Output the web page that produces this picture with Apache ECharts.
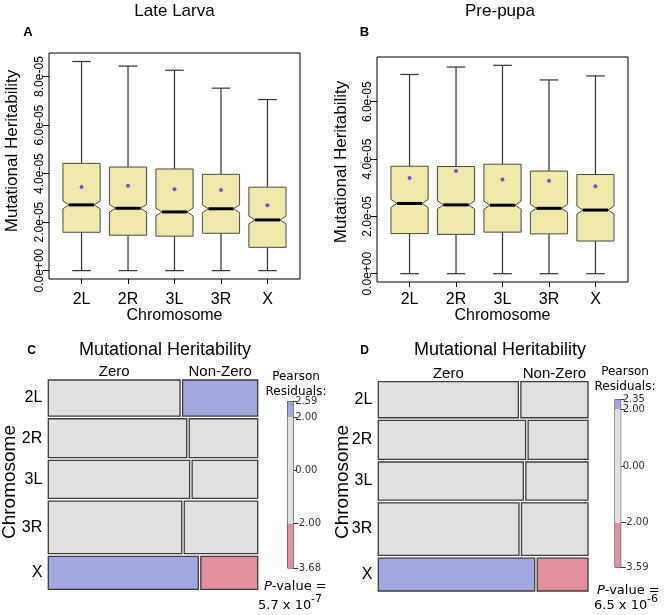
<!DOCTYPE html>
<html><head><meta charset="utf-8">
<script src="https://cdn.jsdelivr.net/npm/echarts@6/dist/echarts.min.js"></script>
<style>html,body{margin:0;padding:0;background:#fff}#c{width:668px;height:615px}</style>
</head><body><div id="c"></div>
<script>
// ---------- data ----------
const chromosomes = ['2L', '2R', '3L', '3R', 'X'];

// Panel A : Late Larva (mutational heritability)
const larvaWhiskerLow  = [0, 0, 0, 0, 0];
const larvaQ1          = [1.58e-5, 1.46e-5, 1.42e-5, 1.54e-5, 0.96e-5];
const larvaNotchLow    = [2.55e-5, 2.41e-5, 2.26e-5, 2.39e-5, 1.93e-5];
const larvaMedian      = [2.71e-5, 2.57e-5, 2.42e-5, 2.55e-5, 2.09e-5];
const larvaNotchHigh   = [2.87e-5, 2.73e-5, 2.58e-5, 2.71e-5, 2.25e-5];
const larvaQ3          = [4.42e-5, 4.27e-5, 4.19e-5, 3.97e-5, 3.44e-5];
const larvaWhiskerHigh = [8.62e-5, 8.43e-5, 8.26e-5, 7.52e-5, 7.05e-5];
const larvaMean        = [3.45e-5, 3.50e-5, 3.35e-5, 3.32e-5, 2.69e-5];

// Panel B : Pre-pupa
const pupaWhiskerLow  = [0, 0, 0, 0, 0];
const pupaQ1          = [1.40e-5, 1.37e-5, 1.45e-5, 1.39e-5, 1.14e-5];
const pupaNotchLow    = [2.31e-5, 2.26e-5, 2.25e-5, 2.14e-5, 2.08e-5];
const pupaMedian      = [2.45e-5, 2.40e-5, 2.39e-5, 2.28e-5, 2.22e-5];
const pupaNotchHigh   = [2.59e-5, 2.54e-5, 2.53e-5, 2.42e-5, 2.36e-5];
const pupaQ3          = [3.75e-5, 3.74e-5, 3.82e-5, 3.58e-5, 3.46e-5];
const pupaWhiskerHigh = [6.95e-5, 7.21e-5, 7.27e-5, 6.76e-5, 6.90e-5];
const pupaMean        = [3.34e-5, 3.58e-5, 3.29e-5, 3.24e-5, 3.05e-5];

const larvaTickValues = [0, 2e-5, 4e-5, 6e-5, 8e-5];
const larvaTickLabels = ['0.0e+00', '2.0e-05', '4.0e-05', '6.0e-05', '8.0e-05'];
const pupaTickValues  = [0, 2e-5, 4e-5, 6e-5];
const pupaTickLabels  = ['0.0e+00', '2.0e-05', '4.0e-05', '6.0e-05'];

// Panels C/D : mosaic (Zero vs Non-Zero heritability by chromosome)
const mosaicColumns   = ['Zero', 'Non-Zero'];
const chromosomeShare = [36.0, 38.8, 38.0, 52.5, 32.9];
const larvaZeroShare  = [0.637, 0.669, 0.683, 0.645, 0.725];
const pupaZeroShare   = [0.676, 0.711, 0.700, 0.679, 0.755];
const larvaResidZero    = [-1.70, -0.55, -0.10, -0.85, 2.40];
const larvaResidNonZero = [2.59, 0.80, 0.20, 1.25, -3.68];
const pupaResidZero     = [-0.40, 0.30, 0.10, -0.50, 2.35];
const pupaResidNonZero  = [0.55, -0.45, -0.15, 0.70, -3.59];
const residualCuts = [-2, 0, 2];
const larvaPValue = ['5.7 x 10', '-7'];
const pupaPValue  = ['6.5 x 10', '-6'];

// ---------- styles ----------
const SANS = 'Liberation Sans, Arial, sans-serif';
const VERD = 'DejaVu Sans, Verdana, sans-serif';
const BOX_FILL = '#eee8aa';
const POS = '#a3a6e0', NEG = '#e3909e', NEU = '#e0e0e0';
const resColor = r => r > 2 ? POS : (r < -2 ? NEG : NEU);

// ---------- box plot helpers ----------
function boxData(lo, q1, nl, md, nh, q3, hi) {
  return chromosomes.map((c, i) => [i + 1, lo[i], q1[i], nl[i], md[i], nh[i], q3[i], hi[i]]);
}
function boxRender(params, api) {
  const x = api.value(0);
  const wlo = api.value(1), q1 = api.value(2), nlo = api.value(3), med = api.value(4),
        nhi = api.value(5), q3 = api.value(6), whi = api.value(7);
  const W = 0.4, NW = 0.27, CW = 0.2;
  const P = (dx, y) => api.coord([x + dx, y]);
  const line = (a, b, w, c) => ({ type: 'line', shape: { x1: a[0], y1: a[1], x2: b[0], y2: b[1] },
    style: { stroke: c || '#333', lineWidth: w || 1.2 } });
  return {
    type: 'group',
    children: [
      line(P(0, q3), P(0, whi)),
      line(P(0, q1), P(0, wlo)),
      line(P(-CW, whi), P(CW, whi)),
      line(P(-CW, wlo), P(CW, wlo)),
      { type: 'polygon', shape: { points: [P(-W, q1), P(-W, nlo), P(-NW, med), P(-W, nhi), P(-W, q3),
          P(W, q3), P(W, nhi), P(NW, med), P(W, nlo), P(W, q1)] },
        style: { fill: BOX_FILL, stroke: '#4a4a40', lineWidth: 1 } },
      line(P(-NW, med), P(NW, med), 3, '#000')
    ]
  };
}
function meanData(m) { return chromosomes.map((c, i) => [i + 1, m[i]]); }

// ---------- mosaic helpers ----------
const GAP_Y = 0.013, GAP_X = 0.012;
function rowBounds(i) {
  const tot = chromosomeShare.reduce((a, b) => a + b, 0);
  const avail = 1 - GAP_Y * (chromosomeShare.length - 1);
  let top = 0;
  for (let k = 0; k < i; k++) top += chromosomeShare[k] / tot * avail + GAP_Y;
  return [top, top + chromosomeShare[i] / tot * avail];
}
function colBounds(z, j) {
  const avail = 1 - GAP_X;
  return j === 0 ? [0, z * avail] : [z * avail + GAP_X, 1];
}
function mosaicData(rz, rn) {
  const d = [];
  chromosomes.forEach((c, i) => { d.push([i, 0, rz[i]]); d.push([i, 1, rn[i]]); });
  return d;
}
function mosaicRender(zeroShare) {
  return function (params, api) {
    const i = api.value(0), j = api.value(1), r = api.value(2);
    const [t, b] = rowBounds(i);
    const [l, rr] = colBounds(zeroShare[i], j);
    const p0 = api.coord([l, t]), p1 = api.coord([rr, b]);
    return { type: 'rect', shape: { x: p0[0], y: p0[1], width: p1[0] - p0[0], height: p1[1] - p0[1] },
      style: { fill: resColor(r), stroke: '#3c3c3c', lineWidth: 1.3 } };
  };
}
function colLabelRender(zeroShare) {
  return function (params, api) {
    const j = api.value(0);
    const [l, r] = colBounds(zeroShare[0], j);
    const p = api.coord([(l + r) / 2, 0]);
    return { type: 'text', x: p[0], y: p[1] - 8,
      style: { text: mosaicColumns[j], fill: '#000', font: '15px ' + SANS,
        align: 'center', verticalAlign: 'middle', textAlign: 'center', textVerticalAlign: 'middle' } };
  };
}
function rowLabelRender(params, api) {
  const i = api.value(0);
  const [t, b] = rowBounds(i);
  const p = api.coord([0, (t + b) / 2]);
  return { type: 'text', x: p[0] - 6, y: p[1],
    style: { text: chromosomes[i], fill: '#000', font: '16px ' + SANS,
      align: 'right', verticalAlign: 'middle', textAlign: 'right', textVerticalAlign: 'middle' } };
}
function legendData(rz, rn) {
  const all = rz.concat(rn);
  const mn = Math.min(...all), mx = Math.max(...all);
  return { min: mn, max: mx,
    segs: [[mn, residualCuts[0], mn - 1], [residualCuts[0], residualCuts[2], 0], [residualCuts[2], mx, mx + 1]],
    ticks: [mn, residualCuts[0], residualCuts[1], residualCuts[2], mx] };
}
function legendRender(params, api) {
  const lo = api.value(0), hi = api.value(1), c = api.value(2);
  const p0 = api.coord([0, hi]), p1 = api.coord([1, lo]);
  return { type: 'rect', shape: { x: p0[0], y: p0[1], width: p1[0] - p0[0], height: p1[1] - p0[1] },
    style: { fill: resColor(c), stroke: null } };
}
const legC = legendData(larvaResidZero, larvaResidNonZero);
const legD = legendData(pupaResidZero, pupaResidNonZero);

// ---------- axes ----------
function boxXAxis(g, margin) {
  return { gridIndex: g, type: 'value', min: 0.3, max: 5.7,
    axisLine: { show: false, onZero: false }, splitLine: { show: false },
    axisTick: { show: true, customValues: [1, 2, 3, 4, 5], length: 5, lineStyle: { color: '#000' } },
    axisLabel: { customValues: [1, 2, 3, 4, 5], formatter: v => chromosomes[Math.round(v) - 1],
      fontSize: 16, fontFamily: SANS, color: '#000', margin: margin } };
}
function boxYAxis(g, mn, mx, tv, tl) {
  return { gridIndex: g, type: 'value', min: mn, max: mx,
    axisLine: { show: false, onZero: false }, splitLine: { show: false },
    axisTick: { show: true, customValues: tv, length: 6, lineStyle: { color: '#000' } },
    axisLabel: { customValues: tv, rotate: 90, fontSize: 12, fontFamily: SANS, color: '#000', margin: 3,
      formatter: v => { let k = 0; tv.forEach((t, i) => { if (Math.abs(t - v) < Math.abs(tv[k] - v)) k = i; }); return tl[k]; } } };
}
function hiddenAxis(g, inverse) {
  return { gridIndex: g, type: 'value', min: 0, max: 1, inverse: !!inverse, show: false,
    axisLine: { show: false, onZero: false }, splitLine: { show: false } };
}
function legendYAxis(g, L) {
  return { gridIndex: g, type: 'value', min: L.min, max: L.max, position: 'right',
    axisLine: { show: false, onZero: false }, splitLine: { show: false },
    axisTick: { show: true, customValues: L.ticks, length: 4, lineStyle: { color: '#333' } },
    axisLabel: { customValues: L.ticks, formatter: v => v.toFixed(2), fontSize: 10, fontFamily: VERD,
      color: '#333', margin: 2, hideOverlap: false } };
}

// ---------- texts ----------
function txt(t, x, y, font, opts) {
  opts = opts || {};
  return { type: 'text', x: x, y: y, rotation: opts.rot || 0, z: 10,
    style: { text: t, font: font, fill: '#000', align: opts.align || 'center', verticalAlign: 'middle',
      textAlign: opts.align || 'center', textVerticalAlign: 'middle' } };
}
const graphics = [
  txt('Late Larva', 174.5, 11, '17px ' + SANS),
  txt('Pre-pupa', 500, 11, '17px ' + SANS),
  txt('A', 28, 32, 'bold 13px ' + SANS),
  txt('B', 364.5, 32, 'bold 13px ' + SANS),
  txt('Mutational Heritability', 12.5, 151, '17px ' + SANS, { rot: Math.PI / 2 }),
  txt('Mutational Heritability', 341, 162, '17px ' + SANS, { rot: Math.PI / 2 }),
  txt('Chromosome', 174.5, 316, '16px ' + SANS),
  txt('Chromosome', 502.5, 316, '16px ' + SANS),
  txt('C', 31.5, 351, 'bold 12px ' + SANS),
  txt('D', 364.5, 351, 'bold 12px ' + SANS),
  txt('Mutational Heritability', 165, 350, '18px ' + SANS),
  txt('Mutational Heritability', 500, 350, '18px ' + SANS),
  txt('Chromosome', 10, 482, '19px ' + SANS, { rot: Math.PI / 2 }),
  txt('Chromosome', 343, 482, '19px ' + SANS, { rot: Math.PI / 2 }),
  txt('Pearson', 296, 377, '12px ' + VERD),
  txt('Residuals:', 296, 392, '12px ' + VERD),
  txt('Pearson', 625, 372, '12px ' + VERD),
  txt('Residuals:', 625, 387, '12px ' + VERD),
  { type: 'text', x: 264, y: 587, z: 10, style: { text: '{i|P}-value =', font: '13px ' + VERD, fill: '#000',
      verticalAlign: 'middle', textVerticalAlign: 'middle', rich: { i: { fontStyle: 'italic', font: 'italic 13px ' + VERD } } } },
  { type: 'text', x: 597, y: 591, z: 10, style: { text: '{i|P}-value =', font: '13px ' + VERD, fill: '#000',
      verticalAlign: 'middle', textVerticalAlign: 'middle', rich: { i: { fontStyle: 'italic', font: 'italic 13px ' + VERD } } } },
  txt(larvaPValue[0], 258, 606, '13px ' + VERD, { align: 'left' }),
  txt(larvaPValue[1], 311, 599, '11px ' + VERD, { align: 'left' }),
  txt(pupaPValue[0], 594, 606, '13px ' + VERD, { align: 'left' }),
  txt(pupaPValue[1], 647, 599, '11px ' + VERD, { align: 'left' })
];

// ---------- chart ----------
const chart = echarts.init(document.getElementById('c'), null, { renderer: 'canvas' });
const border = { show: true, borderColor: '#000', borderWidth: 1, backgroundColor: 'transparent' };
chart.setOption({
  animation: false,
  backgroundColor: '#fff',
  grid: [
    Object.assign({ left: 49, top: 53, width: 251, height: 226 }, border),
    Object.assign({ left: 377, top: 57, width: 251, height: 225 }, border),
    { left: 48.3, top: 380, width: 209.4, height: 209.3 },
    { left: 378.3, top: 381.7, width: 209.7, height: 209.3 },
    { left: 287.5, top: 401.5, width: 5.7, height: 166.5, show: true, borderColor: '#333', borderWidth: 1 },
    { left: 615, top: 399.5, width: 5.7, height: 168, show: true, borderColor: '#333', borderWidth: 1 }
  ],
  xAxis: [boxXAxis(0, 13), boxXAxis(1, 10), hiddenAxis(2), hiddenAxis(3), hiddenAxis(4), hiddenAxis(5)],
  yAxis: [
    boxYAxis(0, -0.345e-5, 8.97e-5, larvaTickValues, larvaTickLabels),
    boxYAxis(1, -0.29e-5, 7.56e-5, pupaTickValues, pupaTickLabels),
    hiddenAxis(2, true), hiddenAxis(3, true),
    legendYAxis(4, legC), legendYAxis(5, legD)
  ],
  series: [
    { type: 'custom', xAxisIndex: 0, yAxisIndex: 0, renderItem: boxRender,
      data: boxData(larvaWhiskerLow, larvaQ1, larvaNotchLow, larvaMedian, larvaNotchHigh, larvaQ3, larvaWhiskerHigh),
      encode: { x: 0, y: [1, 2, 3, 4, 5, 6, 7] } },
    { type: 'scatter', xAxisIndex: 0, yAxisIndex: 0, data: meanData(larvaMean), symbolSize: 4,
      itemStyle: { color: '#5a28d2' }, z: 5 },
    { type: 'custom', xAxisIndex: 1, yAxisIndex: 1, renderItem: boxRender,
      data: boxData(pupaWhiskerLow, pupaQ1, pupaNotchLow, pupaMedian, pupaNotchHigh, pupaQ3, pupaWhiskerHigh),
      encode: { x: 0, y: [1, 2, 3, 4, 5, 6, 7] } },
    { type: 'scatter', xAxisIndex: 1, yAxisIndex: 1, data: meanData(pupaMean), symbolSize: 4,
      itemStyle: { color: '#5a28d2' }, z: 5 },
    { type: 'custom', xAxisIndex: 2, yAxisIndex: 2, renderItem: mosaicRender(larvaZeroShare),
      data: mosaicData(larvaResidZero, larvaResidNonZero), clip: false },
    { type: 'custom', xAxisIndex: 3, yAxisIndex: 3, renderItem: mosaicRender(pupaZeroShare),
      data: mosaicData(pupaResidZero, pupaResidNonZero), clip: false },
    { type: 'custom', xAxisIndex: 2, yAxisIndex: 2, renderItem: colLabelRender(larvaZeroShare), data: [[0], [1]], clip: false },
    { type: 'custom', xAxisIndex: 3, yAxisIndex: 3, renderItem: colLabelRender(pupaZeroShare), data: [[0], [1]], clip: false },
    { type: 'custom', xAxisIndex: 2, yAxisIndex: 2, renderItem: rowLabelRender, data: chromosomes.map((c, i) => [i]), clip: false },
    { type: 'custom', xAxisIndex: 3, yAxisIndex: 3, renderItem: rowLabelRender, data: chromosomes.map((c, i) => [i]), clip: false },
    { type: 'custom', xAxisIndex: 4, yAxisIndex: 4, renderItem: legendRender, data: legC.segs, z: 1 },
    { type: 'custom', xAxisIndex: 5, yAxisIndex: 5, renderItem: legendRender, data: legD.segs, z: 1 }
  ],
  graphic: graphics
});
</script></body></html>
